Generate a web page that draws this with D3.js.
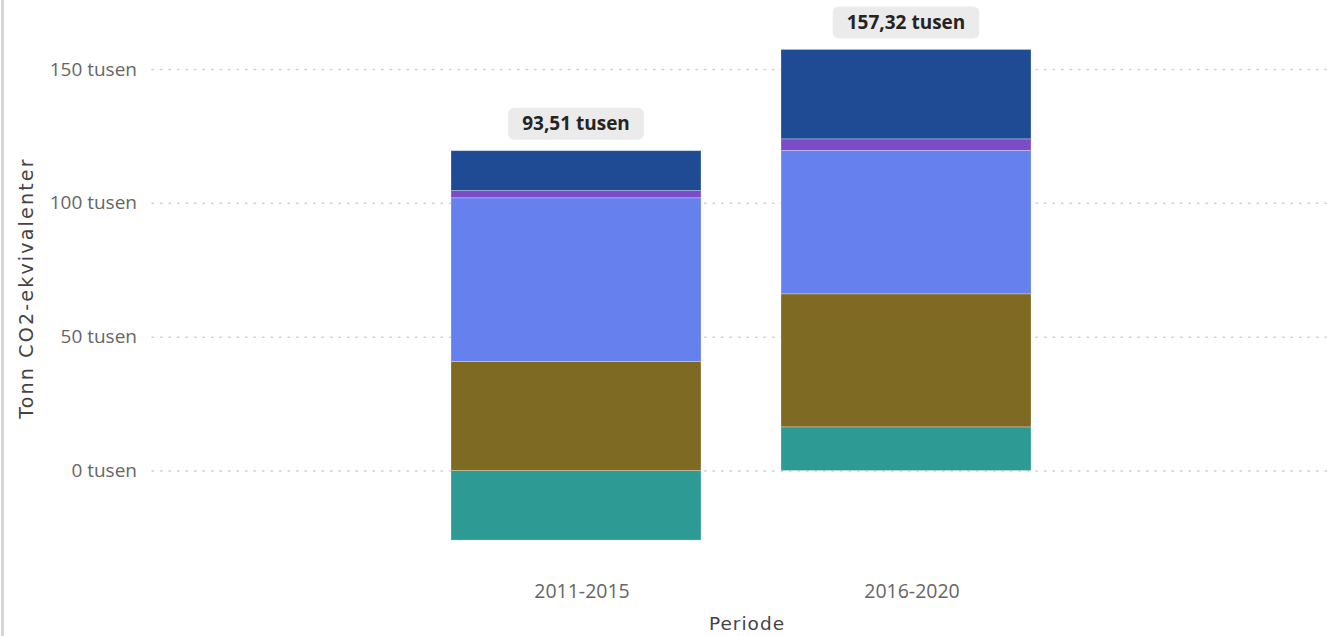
<!DOCTYPE html>
<html>
<head>
<meta charset="utf-8">
<script src="https://cdn.jsdelivr.net/npm/d3@7"></script>
<style>
  html, body { margin: 0; padding: 0; background: #fff; }
  svg { display: block; }
  .tick text { font-family: "Segoe UI", "Open Sans", sans-serif; }
</style>
</head>
<body>
<svg id="chart" width="1327" height="636"></svg>
<script>
// Periods on the x axis
const periods = ["2011-2015", "2016-2020"];

// Emission series, thousand tonnes CO2-eq, one value per period (bottom to top)
const serie1 = [-25.99, 16.32];
const serie2 = [40.70, 49.70];
const serie3 = [61.20, 53.60];
const serie4 = [2.70, 4.30];
const serie5 = [14.90, 33.40];

// Net totals shown above each bar
const totals = [93.51, 157.32];

// Y axis ticks
const yTicks = [0, 50, 100, 150];

const seriesKeys = ["serie1", "serie2", "serie3", "serie4", "serie5"];
const seriesColors = ["#2E9A94", "#7F6A23", "#6680EE", "#7B4BC8", "#1F4B94"];
const seriesValues = [serie1, serie2, serie3, serie4, serie5];

const rows = periods.map((p, i) => {
  const r = { period: p };
  seriesKeys.forEach((k, j) => { r[k] = seriesValues[j][i]; });
  return r;
});

const svg = d3.select("#chart");
const W = 1327, H = 636;

// left panel border
svg.append("rect").attr("x", 1).attr("y", 0).attr("width", 3).attr("height", H).attr("fill", "#d6d6d6");

const x = d3.scaleBand().domain(periods).range([411, 1071])
  .paddingInner(80 / 330).paddingOuter(40 / 330);
const y = d3.scaleLinear().domain([-40, 170]).range([577.6, 15.5]);

const fmt = v => d3.format(".2f")(v).replace(".", ",") + " tusen";

// gridlines
const grid = svg.append("g").attr("transform", "translate(152,0)")
  .call(d3.axisLeft(y).tickValues(yTicks).tickSize(-(W - 152)).tickFormat(""));
grid.select(".domain").remove();
grid.selectAll(".tick line")
  .attr("stroke", "#d0d0d0").attr("stroke-width", 1.5)
  .attr("stroke-dasharray", "1.5,7").attr("stroke-linecap", "round");

// y axis labels
const yAxis = svg.append("g").attr("transform", "translate(152,0)")
  .call(d3.axisLeft(y).tickValues(yTicks).tickSize(0).tickPadding(15).tickFormat(d => d + " tusen"));
yAxis.select(".domain").remove();
yAxis.selectAll(".tick text").attr("font-size", 19).attr("fill", "#666");

// stacked bars
const stack = d3.stack().keys(seriesKeys).offset(d3.stackOffsetDiverging);
const layers = stack(rows);

svg.append("g").selectAll("g").data(layers).join("g")
  .attr("fill", (d, i) => seriesColors[i])
  .selectAll("rect").data(d => d).join("rect")
  .attr("x", d => x(d.data.period))
  .attr("width", x.bandwidth())
  .attr("y", d => y(Math.max(d[0], d[1])))
  .attr("height", d => Math.abs(y(d[0]) - y(d[1])))
  .attr("stroke", "rgba(255,255,255,0.35)")
  .attr("stroke-width", 0.8);

// x axis labels
const xAxis = svg.append("g").attr("transform", `translate(6,${y(-40) + 7})`)
  .call(d3.axisBottom(x).tickSize(0).tickPadding(0));
xAxis.select(".domain").remove();
xAxis.selectAll(".tick text").attr("font-size", 19.5).attr("fill", "#666");

// total labels
const tops = rows.map(r => d3.sum(seriesKeys, k => Math.max(0, r[k])));
const lbl = svg.append("g").selectAll("g").data(periods).join("g")
  .attr("transform", (p, i) => `translate(${x(p) + x.bandwidth() / 2},${y(tops[i]) - 27})`);
lbl.append("text")
  .attr("text-anchor", "middle").attr("dy", "0.35em")
  .attr("font-family", "'Segoe UI', 'Open Sans', sans-serif")
  .attr("font-weight", 700).attr("font-size", 19).attr("fill", "#252423")
  .text((p, i) => fmt(totals[i]))
  .each(function () {
    const b = this.getBBox();
    d3.select(this.parentNode).insert("rect", "text")
      .attr("x", b.x - 14).attr("y", -16).attr("width", b.width + 28).attr("height", 32)
      .attr("rx", 6).attr("fill", "#ebebeb");
  });

// axis titles
svg.append("text")
  .attr("transform", `translate(33,${288}) rotate(-90)`)
  .attr("text-anchor", "middle")
  .attr("font-family", "'DejaVu Sans', sans-serif").attr("font-size", 19)
  .attr("letter-spacing", 2.2).attr("fill", "#444")
  .text("Tonn CO2-ekvivalenter");

svg.append("text")
  .attr("x", 747).attr("y", 630).attr("text-anchor", "middle")
  .attr("font-family", "'DejaVu Sans', sans-serif").attr("font-size", 18.5)
  .attr("letter-spacing", 1).attr("fill", "#444")
  .text("Periode");
</script>
</body>
</html>
